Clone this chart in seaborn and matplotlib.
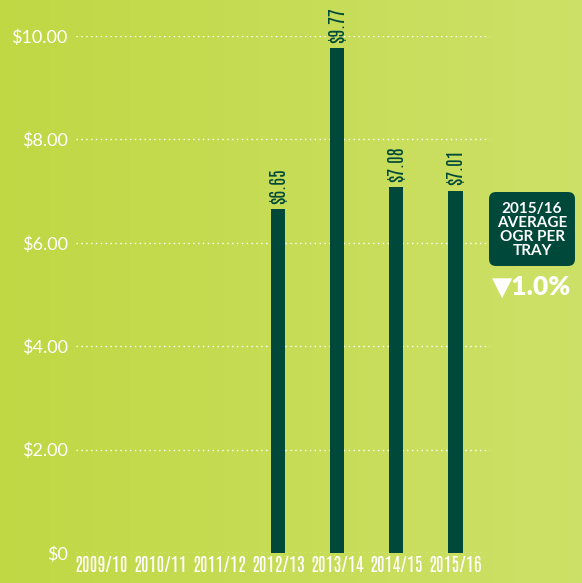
import numpy as np
import pandas as pd
import matplotlib
matplotlib.use("Agg")
import matplotlib.pyplot as plt
import seaborn as sns
from matplotlib.patches import FancyBboxPatch

categories = ["2009/10", "2010/11", "2011/12", "2012/13", "2013/14", "2014/15", "2015/16"]
values = [np.nan, np.nan, np.nan, 6.65, 9.77, 7.08, 7.01]
ytick_vals = [0, 2, 4, 6, 8, 10]
ytick_labels = ["$0", "$2.00", "$4.00", "$6.00", "$8.00", "$10.00"]
callout_text = "2015/16\nAVERAGE\nOGR PER\nTRAY"
change_text = "\u25BC1.0%"

sns.set_theme(style="white")
plt.rcParams['font.family'] = ['Lato', 'DejaVu Sans']

narrow = ["Antonio", "Saira SemiCondensed", "DejaVu Sans"]
dark = "#00493a"
fig = plt.figure(figsize=(5.82, 5.83), dpi=100)

# background gradient
bg = fig.add_axes([0, 0, 1, 1], zorder=0)
grad = np.linspace(0, 1, 256)
c0 = np.array([192, 216, 68]) / 255
c1 = np.array([205, 225, 104]) / 255
img = c0[None, None, :] * (1 - grad[None, :, None]) + c1[None, None, :] * grad[None, :, None]
bg.imshow(img, aspect="auto", extent=[0, 1, 0, 1])
bg.set_axis_off()

ax = fig.add_axes([76 / 582, 1 - 553 / 583, (490 - 76) / 582, (553 - 36) / 583], zorder=1)
ax.patch.set_alpha(0)
df = pd.DataFrame({"year": categories, "value": values})
sns.barplot(data=df, x="year", y="value", color=dark, saturation=1, width=0.25, ax=ax,
            zorder=3, edgecolor="none", linewidth=0)

ax.set_xlim(-0.42, 6.59)
ax.set_ylim(0, 10)
ax.set_yticks(ytick_vals)
ax.set_yticklabels(ytick_labels, color="white", fontsize=13, fontfamily=["Lato", "DejaVu Sans"])
ax.tick_params(axis="y", length=0, pad=6)
ax.tick_params(axis="x", length=0, pad=2)
for lbl in ax.get_xticklabels():
    lbl.set_color("white")
    lbl.set_fontsize(13.5)
    lbl.set_fontweight("bold")
    lbl.set_fontfamily(narrow)
ax.set_xlabel("")
ax.set_ylabel("")
for s in ax.spines.values():
    s.set_visible(False)
ax.yaxis.grid(True, color="white", linestyle=(0, (1, 2.5)), linewidth=1.0, zorder=0)
ax.xaxis.grid(False)
ax.set_axisbelow(True)

for i, v in enumerate(values):
    if not np.isnan(v):
        ax.text(i, v + 0.1, f"${v:.2f}", rotation=90, ha="center", va="bottom",
                color=dark, fontsize=13.5, fontweight="bold",
                fontfamily=narrow, clip_on=False)

# callout box
box = FancyBboxPatch((489 / 582, 1 - 266 / 583), (575 - 489) / 582, (266 - 192) / 583,
                     boxstyle="round,pad=0,rounding_size=0.012", transform=fig.transFigure,
                     facecolor=dark, edgecolor="none", zorder=5)
fig.patches.append(box)
fig.text(532 / 582, 1 - 230 / 583, callout_text, ha="center", va="center", color="white",
         fontsize=11, fontweight="bold", linespacing=0.98, zorder=6)
fig.text(532 / 582, 1 - 287 / 583, change_text, ha="center", va="center", color="white",
         fontsize=19, fontweight="heavy", zorder=6)

fig.savefig("out.png", dpi=100)
